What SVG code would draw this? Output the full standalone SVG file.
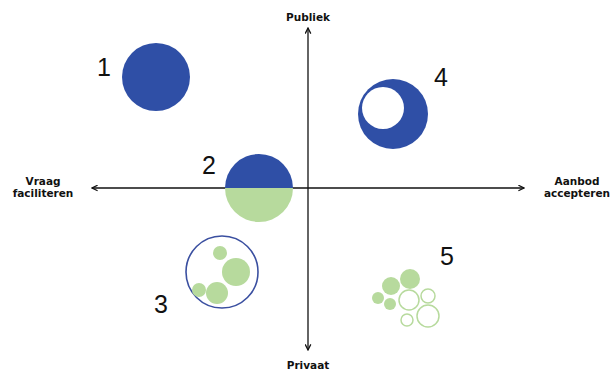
<svg xmlns="http://www.w3.org/2000/svg" width="610" height="374" viewBox="0 0 610 374">
<style>
.ax{stroke:#111;stroke-width:1.3;fill:none}
.lbl{font-family:"DejaVu Sans",Verdana,sans-serif;font-weight:bold;font-size:10.5px;fill:#111;text-anchor:middle}
.num{font-family:"Liberation Sans",Arial,sans-serif;font-size:25px;fill:#111;text-anchor:middle}
.blue{fill:#2f4fa6}
.green{fill:#b7da9d}
.ring{fill:#fff;stroke:#b7da9d;stroke-width:1.5}
</style>
<defs>
<marker id="ah" viewBox="0 0 10 10" refX="9" refY="5" markerWidth="7" markerHeight="7" orient="auto-start-reverse" markerUnits="userSpaceOnUse">
<path d="M1,1 L9,5 L1,9" fill="none" stroke="#111" stroke-width="1.8"/>
</marker>
</defs>
<rect width="610" height="374" fill="#fff"/>
<g id="connectors">
<line class="ax" x1="92" y1="188" x2="524" y2="188" marker-start="url(#ah)" marker-end="url(#ah)"/>
<line class="ax" x1="308" y1="28" x2="308" y2="350" marker-start="url(#ah)" marker-end="url(#ah)"/>
</g>
<g id="publiek"><text class="lbl" x="308" y="21">Publiek</text></g>
<g id="privaat"><text class="lbl" x="308" y="369">Privaat</text></g>
<g id="vraag"><text class="lbl" x="43" y="185">Vraag</text><text class="lbl" x="43" y="197">faciliteren</text></g>
<g id="aanbod"><text class="lbl" x="577" y="185">Aanbod</text><text class="lbl" x="577" y="197">accepteren</text></g>
<g id="n1"><circle class="blue" cx="156" cy="77" r="34"/><text class="num" x="104" y="76">1</text></g>
<g id="n2">
<path class="blue" d="M225,188 A34,34 0 0 1 293,188 Z"/>
<path class="green" d="M225,188 A34,34 0 0 0 293,188 Z"/>
<text class="num" x="209" y="174">2</text>
</g>
<g id="n3">
<circle cx="222" cy="272" r="36" fill="#fff" stroke="#3a4fa0" stroke-width="1.6"/>
<circle class="green" cx="236" cy="272" r="14"/>
<circle class="green" cx="220" cy="253" r="7"/>
<circle class="green" cx="217" cy="293" r="11"/>
<circle class="green" cx="199" cy="290" r="7"/>
<text class="num" x="161" y="313">3</text>
</g>
<g id="n4">
<circle class="blue" cx="393" cy="114" r="35"/>
<circle cx="383" cy="108" r="21" fill="#fff"/>
<text class="num" x="441" y="86">4</text>
</g>
<g id="n5">
<circle class="green" cx="410" cy="279" r="10"/>
<circle class="green" cx="391" cy="286" r="9"/>
<circle class="green" cx="378" cy="298" r="6"/>
<circle class="green" cx="390" cy="304" r="6"/>
<circle class="ring" cx="428" cy="296" r="7"/>
<circle class="ring" cx="409" cy="300" r="10"/>
<circle class="ring" cx="428" cy="316" r="11"/>
<circle class="ring" cx="407" cy="320" r="6"/>
<text class="num" x="447" y="265">5</text>
</g>
</svg>
